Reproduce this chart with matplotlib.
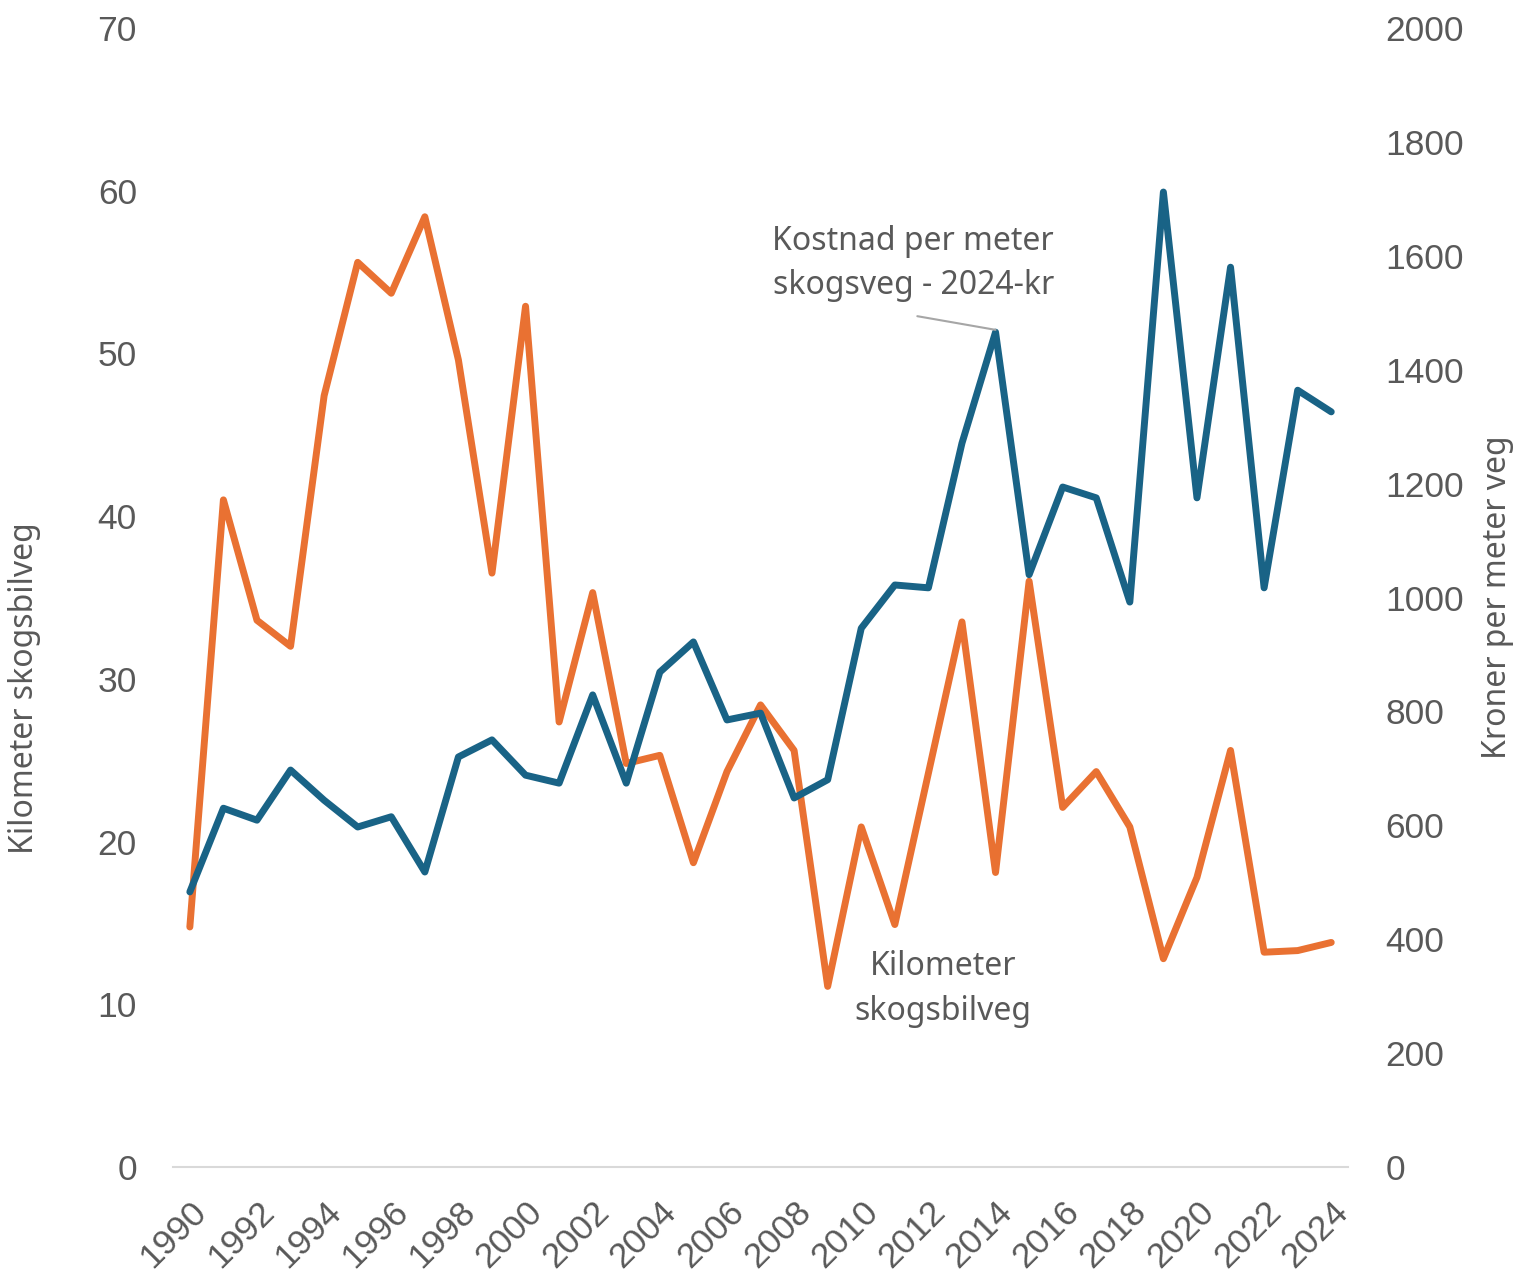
import matplotlib.pyplot as plt

years = list(range(1990, 2025))
km_veg = [14.75, 41.0, 33.6, 32.0, 47.4, 55.6, 53.7, 58.4, 49.6, 36.5,
          52.9, 27.35, 35.3, 24.8, 25.3, 18.7, 24.3, 28.4, 25.6, 11.1,
          20.9, 14.9, 24.2, 33.5, 18.1, 36.0, 22.1, 24.3, 20.9, 12.8,
          17.8, 25.6, 13.2, 13.3, 13.8]
kr_per_m = [483, 630, 609, 697, 644, 597, 615, 518, 720, 750,
            688, 674, 829, 674, 869, 922, 785, 797, 648, 680,
            946, 1022, 1017, 1271, 1466, 1040, 1194, 1175, 992, 1712,
            1175, 1580, 1017, 1364, 1326]
xtick_years = years[::2]

orange = '#E97132'
blue = '#196386'
grey = '#595959'

fig = plt.figure(figsize=(15.22, 12.74), dpi=100)
ax = fig.add_axes([0.1137, 0.084, 0.772, 0.894])
ax2 = ax.twinx()

ax.plot(years, km_veg, color=orange, linewidth=5, solid_joinstyle='round',
        solid_capstyle='round', zorder=2)
ax2.plot(years, kr_per_m, color=blue, linewidth=5, solid_joinstyle='round',
         solid_capstyle='round', zorder=3)

ax.set_xlim(1989.5, 2024.5)
ax.set_ylim(0, 70)
ax2.set_ylim(0, 2000)
ax.set_yticks(range(0, 71, 10))
ax2.set_yticks(range(0, 2001, 200))
ax.set_xticks(xtick_years)
ax.set_xticklabels([str(y) for y in xtick_years], rotation=45, ha='right',
                   rotation_mode='anchor')

for a in (ax, ax2):
    for s in ('top', 'left', 'right'):
        a.spines[s].set_visible(False)
    a.spines['bottom'].set_color('#D9D9D9')
    a.spines['bottom'].set_linewidth(1.5)
    a.tick_params(length=0, labelsize=25.5, labelcolor=grey)
    for lbl in a.get_xticklabels() + a.get_yticklabels():
        lbl.set_fontfamily('Liberation Sans')
ax2.spines['bottom'].set_visible(False)
ax.tick_params(axis='y', pad=26)
ax.tick_params(axis='x', pad=20)
ax2.tick_params(axis='y', pad=27)

ax.set_ylabel('Kilometer skogsbilveg', fontsize=23, color=grey, family='Noto Sans')
ax.yaxis.set_label_coords(-0.112, 0.42)
ax2.set_ylabel('Kroner per meter veg', fontsize=23, color=grey, family='Noto Sans')
ax2.yaxis.set_label_coords(1.113, 0.50)

ax2.text(2011.55, 1586, 'Kostnad per meter\nskogsveg - 2024-kr', ha='center',
         va='center', fontsize=23, color=grey, family='Noto Sans',
         linespacing=1.45)
ax2.annotate('', xy=(2014, 1470), xytext=(2011.67, 1494),
             arrowprops=dict(arrowstyle='-', color='#A6A6A6', lw=1.5,
                             shrinkA=0, shrinkB=0))
ax.text(2012.44, 10.94, 'Kilometer\nskogsbilveg', ha='center', va='center',
        fontsize=23, color=grey, family='Noto Sans', linespacing=1.45)

fig.savefig('out.png', dpi=100)
